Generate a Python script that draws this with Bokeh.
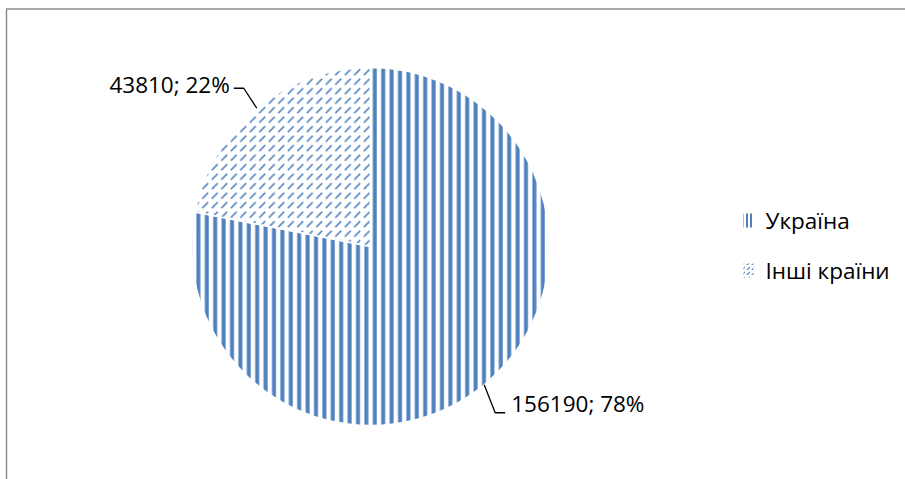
import math
from bokeh.plotting import figure
from bokeh.models import Range1d, ColumnDataSource
from bokeh.embed import file_html
from bokeh.resources import INLINE
from bokeh.core.properties import value

# ---- data ----
categories = ["Україна", "Інші країни"]
values = [156190, 43810]

# ---- styles / layout ----
W, H = 905, 479
CX, CY, R = 370, 233, 179
BLUE = "#4F81BD"
FONT = "Open Sans"
FSIZE = "22.5px"
patterns = ["vertical_line", "right_diagonal_dash"]
scales = [8.4, 9.5]
weights = [4, 1.6]
legend_scales = [4, 5]
legend_weights = [2, 1.2]
LEG_X, LEG_Y0, LEG_DY = 748, H - 220, 50
# leader geometry offsets (bend dx, dy ; end dx ; text dx, dy) relative to edge point
leader = [
    dict(bx=11, by=-28, ex=21, tx=27, ty=-19, align="left"),
    dict(bx=-13, by=20, ex=-23, tx=-27, ty=24, align="right"),
]

total = sum(values)
fracs = [v / total for v in values]
pcts = [round(f * 100) for f in fracs]

p = figure(width=W, height=H, x_range=Range1d(0, W), y_range=Range1d(0, H),
           output_backend="svg", toolbar_location=None, min_border=0)
p.axis.visible = False
p.grid.visible = False
p.outline_line_color = None
p.background_fill_color = "white"
p.border_fill_color = "white"

# chart-area border (extends beyond the visible window on right/bottom)
p.quad(left=[6], right=[W + 50], top=[H - 8.5], bottom=[-50],
       fill_color=None, line_color="#8c8c8c", line_width=1.5)

start = math.pi / 2
for i, (cat, f) in enumerate(zip(categories, fracs)):
    end = start - 2 * math.pi * f
    src = ColumnDataSource(dict(x=[CX], y=[CY], s=[start], e=[end]))
    p.wedge(x="x", y="y", radius=R, start_angle="s", end_angle="e",
            direction="clock", source=src,
            fill_color="white", line_color="white", line_width=1.5,
            hatch_pattern=patterns[i], hatch_color=BLUE,
            hatch_scale=scales[i], hatch_weight=weights[i])
    mid = (start + end) / 2
    ex = CX + R * math.cos(mid)
    ey = CY + R * math.sin(mid)
    L = leader[i]
    bx, by = ex + L["bx"], ey + L["by"]
    p.line(x=[ex, bx, bx + (L["ex"] - L["bx"])], y=[ey, by, by],
           line_color="black", line_width=1.3)
    p.text(x=[ex + L["tx"]], y=[ey + L["ty"]],
           text=[f"{values[i]}; {pcts[i]}%"],
           text_font=value(FONT), text_font_size=FSIZE,
           text_align=L["align"], text_baseline="middle", text_color="black")

    # legend entry
    ly = LEG_Y0 - i * LEG_DY
    p.rect(x=[LEG_X], y=[ly], width=10, height=14,
           fill_color="white", line_color=None,
           hatch_pattern=patterns[i], hatch_color=BLUE,
           hatch_scale=legend_scales[i], hatch_weight=legend_weights[i])
    p.text(x=[LEG_X + 17], y=[ly], text=[cat],
           text_font=value(FONT), text_font_size=FSIZE,
           text_align="left", text_baseline="middle", text_color="black")
    start = end

open("out.html", "w").write(file_html(p, INLINE))
